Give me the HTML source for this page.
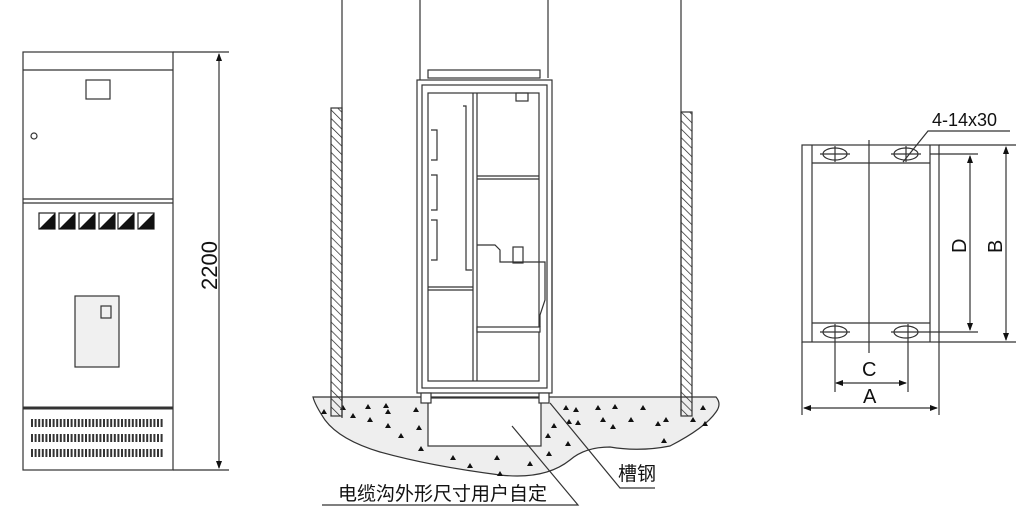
<!DOCTYPE html>
<html><head><meta charset="utf-8"><style>
html,body{margin:0;padding:0;background:#fff;}
svg{display:block;}
text{font-family:"Liberation Sans","Noto Sans CJK SC",sans-serif;fill:#111;}
</style></head><body>
<svg width="1024" height="517" viewBox="0 0 1024 517" xmlns="http://www.w3.org/2000/svg">
<defs>
<pattern id="h" width="6" height="6" patternUnits="userSpaceOnUse" patternTransform="rotate(-45)">
<line x1="0" y1="0" x2="0" y2="6" stroke="#222" stroke-width="1.4"/>
</pattern>
<marker id="ar" markerWidth="8" markerHeight="8" refX="7" refY="4" orient="auto-start-reverse" markerUnits="userSpaceOnUse">
<path d="M0,1 L8,4 L0,7 z" fill="#111"/></marker>
</defs>
<g stroke="#333" fill="none" stroke-width="1.2">
<rect x="23" y="52" width="150" height="418"/>
<line x1="23" y1="70" x2="173" y2="70"/>
<line x1="23" y1="199" x2="173" y2="199"/>
<line x1="23" y1="203" x2="173" y2="203"/>
<rect x="86" y="80" width="24" height="19"/>
<circle cx="34" cy="136" r="3"/>
<rect x="75" y="296" width="44" height="71" fill="#f0f0f0"/>
<rect x="101" y="306" width="10" height="12"/>
<line x1="23" y1="408" x2="173" y2="408" stroke-width="3"/>
<line x1="173" y1="52" x2="229" y2="52"/>
<line x1="173" y1="470" x2="229" y2="470"/>
<line x1="219" y1="54" x2="219" y2="468" marker-start="url(#ar)" marker-end="url(#ar)"/>
</g>
<g stroke="#222" stroke-width="1.2">
<g fill="#fff"><rect x="39" y="213" width="16" height="16"/><rect x="59" y="213" width="16" height="16"/><rect x="79" y="213" width="16" height="16"/><rect x="99" y="213" width="16" height="16"/><rect x="118" y="213" width="16" height="16"/><rect x="138" y="213" width="16" height="16"/></g>
<g fill="#111" stroke="none"><path d="M55,213 L55,229 L39,229z"/><path d="M75,213 L75,229 L59,229z"/><path d="M95,213 L95,229 L79,229z"/><path d="M115,213 L115,229 L99,229z"/><path d="M134,213 L134,229 L118,229z"/><path d="M154,213 L154,229 L138,229z"/></g>
</g>
<g stroke="#333" stroke-width="8" stroke-dasharray="2,1.6">
<line x1="31" y1="423" x2="163" y2="423"/>
<line x1="31" y1="438" x2="163" y2="438"/>
<line x1="31" y1="453" x2="163" y2="453"/>
</g>
<text x="0" y="0" font-size="22" transform="translate(217,290) rotate(-90)">2200</text>

<path d="M313,397 L716,397 Q722,404 716,412 Q705,428 670,446 Q640,452 610,447 Q585,447 570,460 Q545,480 500,475 Q430,466 380,452 Q340,440 325,420 Q315,405 313,397z" fill="#eeeeee" stroke="#333" stroke-width="1.2"/>
<rect x="428" y="398" width="113" height="48" fill="#fff" stroke="#333" stroke-width="1.2"/>
<g fill="#111">
<path d="M321,414l3,-5l3,5z"/><path d="M340,410l3,-5l3,5z"/><path d="M365,409l3,-5l3,5z"/><path d="M383,408l3,-5l3,5z"/><path d="M385,414l3,-5l3,5z"/><path d="M350,418l3,-5l3,5z"/><path d="M367,422l3,-5l3,5z"/><path d="M385,428l3,-5l3,5z"/><path d="M413,412l3,-5l3,5z"/><path d="M398,438l3,-5l3,5z"/><path d="M416,430l3,-5l3,5z"/><path d="M418,451l3,-5l3,5z"/><path d="M450,460l3,-5l3,5z"/><path d="M467,468l3,-5l3,5z"/><path d="M494,460l3,-5l3,5z"/><path d="M497,476l3,-5l3,5z"/><path d="M527,466l3,-5l3,5z"/><path d="M551,428l3,-5l3,5z"/><path d="M563,410l3,-5l3,5z"/><path d="M566,424l3,-5l3,5z"/><path d="M545,438l3,-5l3,5z"/><path d="M565,446l3,-5l3,5z"/><path d="M575,425l3,-5l3,5z"/><path d="M573,412l3,-5l3,5z"/><path d="M595,410l3,-5l3,5z"/><path d="M612,409l3,-5l3,5z"/><path d="M600,422l3,-5l3,5z"/><path d="M610,429l3,-5l3,5z"/><path d="M628,422l3,-5l3,5z"/><path d="M640,410l3,-5l3,5z"/><path d="M655,426l3,-5l3,5z"/><path d="M663,422l3,-5l3,5z"/><path d="M690,422l3,-5l3,5z"/><path d="M700,410l3,-5l3,5z"/><path d="M702,426l3,-5l3,5z"/><path d="M661,443l3,-5l3,5z"/><path d="M546,456l3,-5l3,5z"/>
</g>
<g stroke="#333" stroke-width="1.2" fill="none">
<line x1="342" y1="0" x2="342" y2="418"/>
<line x1="420" y1="0" x2="420" y2="80"/>
<line x1="548" y1="0" x2="548" y2="78"/>
<line x1="681" y1="0" x2="681" y2="415"/>
<rect x="331" y="108" width="11" height="308" fill="url(#h)"/>
<rect x="681" y="112" width="11" height="304" fill="url(#h)"/>
<rect x="428" y="70" width="112" height="8" fill="#fff"/>
<rect x="417" y="80" width="135" height="313" fill="#fff"/>
<rect x="422" y="85" width="125" height="303"/>
<rect x="428" y="93" width="111" height="288"/>
<line x1="473" y1="93" x2="473" y2="381"/>
<line x1="477" y1="93" x2="477" y2="381"/>
<line x1="477" y1="176" x2="539" y2="176"/>
<line x1="477" y1="179" x2="539" y2="179"/>
<line x1="428" y1="287" x2="473" y2="287"/>
<line x1="428" y1="290" x2="473" y2="290"/>
<rect x="477" y="327" width="63" height="5" fill="#fff"/>
<path d="M477,245 L495,245 L500,250 L500,262 L545,262 L545,300 L540,315 L540,327"/>
<path d="M463,106 L466,106 L466,270 L472,270"/>
<path d="M431,130 L437,130 L437,160 L431,160"/>
<path d="M431,175 L437,175 L437,210 L431,210"/>
<path d="M431,220 L437,220 L437,260 L431,260"/>
<rect x="516" y="93" width="12" height="8"/>
<rect x="513" y="247" width="10" height="16"/>
<line x1="552" y1="180" x2="552" y2="330"/>
<rect x="421" y="393" width="10" height="10" fill="#fff"/><rect x="539" y="393" width="10" height="10" fill="#fff"/>
<polyline points="550,403 620,488 655,488"/>
<polyline points="512,426 578,505 322,505"/>
</g>
<text x="618" y="480" font-size="19">槽钢</text>
<text x="338" y="500" font-size="19">电缆沟外形尺寸用户自定</text>

<g stroke="#333" stroke-width="1.2" fill="none">
<rect x="802" y="145" width="137" height="197"/>
<line x1="812" y1="145" x2="812" y2="342"/>
<line x1="930" y1="145" x2="930" y2="342"/>
<line x1="812" y1="163" x2="930" y2="163"/>
<line x1="812" y1="323" x2="930" y2="323"/>
<line x1="869" y1="140" x2="869" y2="353"/>
<ellipse cx="835" cy="154" rx="12" ry="6"/><ellipse cx="906" cy="154" rx="12" ry="6"/>
<ellipse cx="835" cy="332" rx="12" ry="6"/><ellipse cx="906" cy="332" rx="12" ry="6"/>
<line x1="820" y1="154" x2="850" y2="154"/><line x1="891" y1="154" x2="921" y2="154"/>
<line x1="820" y1="332" x2="850" y2="332"/><line x1="891" y1="332" x2="921" y2="332"/>
<line x1="835" y1="146" x2="835" y2="162"/><line x1="906" y1="146" x2="906" y2="162"/>
<line x1="835" y1="324" x2="835" y2="392"/><line x1="908" y1="324" x2="908" y2="392"/>
<line x1="802" y1="342" x2="802" y2="415"/><line x1="939" y1="342" x2="939" y2="415"/>
<line x1="939" y1="145" x2="1016" y2="145"/><line x1="939" y1="342" x2="1016" y2="342"/>
<line x1="930" y1="154" x2="978" y2="154"/><line x1="921" y1="332" x2="978" y2="332"/>
<line x1="970" y1="156" x2="970" y2="330" marker-start="url(#ar)" marker-end="url(#ar)"/>
<line x1="1006" y1="147" x2="1006" y2="340" marker-start="url(#ar)" marker-end="url(#ar)"/>
<line x1="836" y1="383" x2="906" y2="383" marker-start="url(#ar)" marker-end="url(#ar)"/>
<line x1="804" y1="408" x2="937" y2="408" marker-start="url(#ar)" marker-end="url(#ar)"/>
<polyline points="903,162 928,131 1010,131"/>
</g>
<text x="932" y="126" font-size="18">4-14x30</text>
<text x="862" y="376" font-size="20">C</text>
<text x="863" y="403" font-size="20">A</text>
<text font-size="20" transform="translate(966,253) rotate(-90)">D</text>
<text font-size="20" transform="translate(1002,253) rotate(-90)">B</text>
</svg>
</body></html>
